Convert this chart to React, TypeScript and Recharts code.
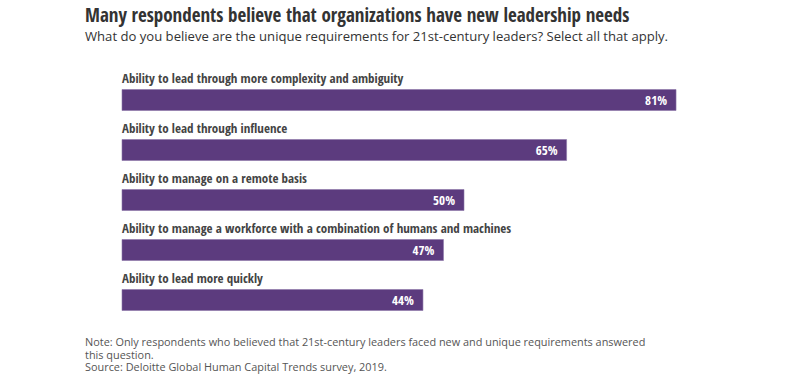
import React from 'react';
import { BarChart, Bar, XAxis, YAxis, LabelList } from 'recharts';

const categories = [
  'Ability to lead through more complexity and ambiguity',
  'Ability to lead through influence',
  'Ability to manage on a remote basis',
  'Ability to manage a workforce with a combination of humans and machines',
  'Ability to lead more quickly',
];
const values = [81, 65, 50, 47, 44];

const data = categories.map((name, i) => ({ name, value: values[i] }));

const condensed = "'Open Sans Condensed', 'Liberation Sans Narrow', 'DejaVu Sans Condensed', 'Open Sans', sans-serif";
const barColor = '#5c3b7e';

const CategoryLabel = (props: any) => {
  const { x, y, value } = props;
  return (
    <text
      x={x}
      y={y - 7}
      fill="#444"
      fontSize={13}
      fontWeight={700}
      fontFamily={condensed}
      style={{ fontStretch: 'condensed' }}
    >
      {value}
    </text>
  );
};

const ValueLabel = (props: any) => {
  const { x, y, width, height, value } = props;
  return (
    <text
      x={x + width - 9}
      y={y + height / 2 + 4.5}
      textAnchor="end"
      fill="#fff"
      fontSize={13}
      fontWeight={700}
      fontFamily={condensed}
      style={{ fontStretch: 'condensed' }}
    >
      {value}%
    </text>
  );
};

export default function App() {
  return (
    <div
      style={{
        position: 'absolute',
        left: 0,
        top: 0,
        width: 800,
        height: 377,
        background: '#fff',
        fontFamily: "'Open Sans', sans-serif",
      }}
    >
      <div
        style={{
          position: 'absolute',
          left: 85,
          top: 4,
          fontSize: 19,
          lineHeight: '22px',
          fontWeight: 700,
          color: '#333',
          fontFamily: condensed,
          fontStretch: 'condensed',
          whiteSpace: 'nowrap',
        }}
      >
        Many respondents believe that organizations have new leadership needs
      </div>
      <div
        style={{
          position: 'absolute',
          left: 85,
          top: 27,
          fontSize: 13.1,
          lineHeight: '18px',
          color: '#333',
          whiteSpace: 'nowrap',
        }}
      >
        What do you believe are the unique requirements for 21st-century leaders? Select all that apply.
      </div>
      <BarChart
        width={800}
        height={377}
        data={data}
        layout="vertical"
        margin={{ top: 74.5, right: 62.4, bottom: 52.5, left: 122 }}
        style={{ position: 'absolute', left: 0, top: 0 }}
      >
        <XAxis type="number" domain={[0, 90]} hide />
        <YAxis type="category" dataKey="name" hide />
        <Bar
          dataKey="value"
          fill={barColor}
          stroke="#8c76a8"
          strokeWidth={0.6}
          barSize={21}
          isAnimationActive={false}
        >
          <LabelList dataKey="name" content={CategoryLabel} />
          <LabelList dataKey="value" content={ValueLabel} />
        </Bar>
      </BarChart>
      <div
        style={{
          position: 'absolute',
          left: 85,
          top: 336,
          fontSize: 10.9,
          lineHeight: '12.5px',
          color: '#555',
          whiteSpace: 'nowrap',
        }}
      >
        Note: Only respondents who believed that 21st-century leaders faced new and unique requirements answered
        <br />
        this question.
        <br />
        Source: Deloitte Global Human Capital Trends survey, 2019.
      </div>
    </div>
  );
}
